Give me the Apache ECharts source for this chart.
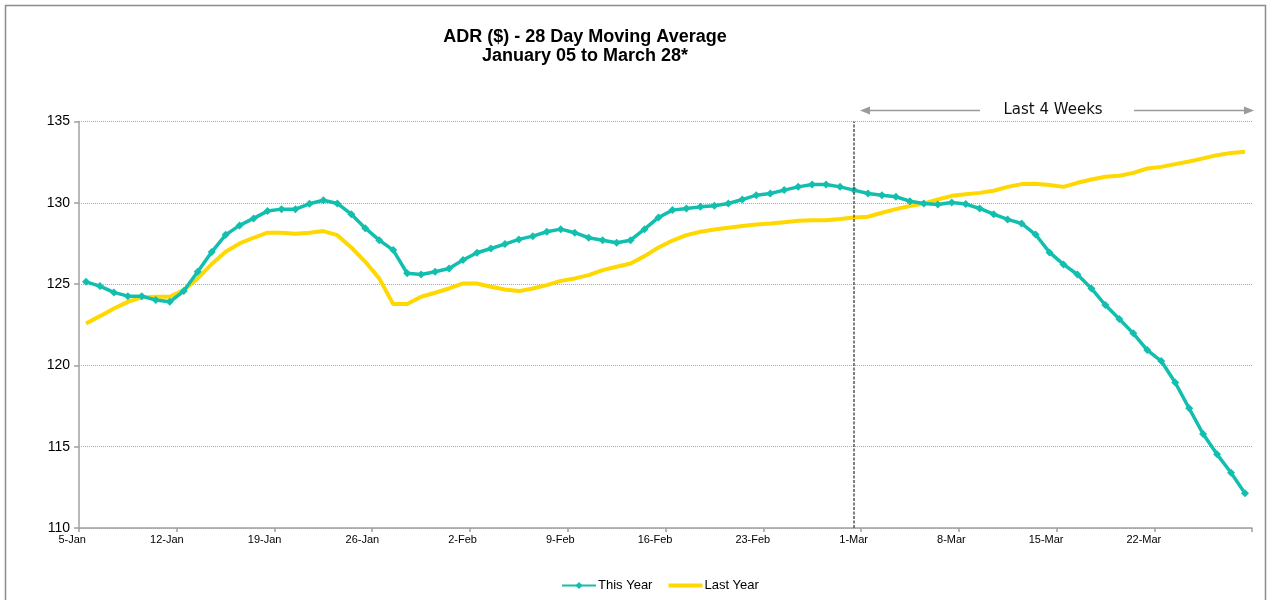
<!DOCTYPE html>
<html>
<head>
<meta charset="utf-8">
<script src="https://cdn.jsdelivr.net/npm/echarts@6/dist/echarts.min.js"></script>
<style>
  html, body { margin: 0; padding: 0; background: #fff; }
  #chart { width: 1276px; height: 600px; }
</style>
</head>
<body>
<div id="chart"></div>
<script>
const categories = [
  "5-Jan","6-Jan","7-Jan","8-Jan","9-Jan","10-Jan","11-Jan","12-Jan","13-Jan","14-Jan",
  "15-Jan","16-Jan","17-Jan","18-Jan","19-Jan","20-Jan","21-Jan","22-Jan","23-Jan","24-Jan",
  "25-Jan","26-Jan","27-Jan","28-Jan","29-Jan","30-Jan","31-Jan","1-Feb","2-Feb","3-Feb",
  "4-Feb","5-Feb","6-Feb","7-Feb","8-Feb","9-Feb","10-Feb","11-Feb","12-Feb","13-Feb",
  "14-Feb","15-Feb","16-Feb","17-Feb","18-Feb","19-Feb","20-Feb","21-Feb","22-Feb","23-Feb",
  "24-Feb","25-Feb","26-Feb","27-Feb","28-Feb","29-Feb","1-Mar","2-Mar","3-Mar","4-Mar",
  "5-Mar","6-Mar","7-Mar","8-Mar","9-Mar","10-Mar","11-Mar","12-Mar","13-Mar","14-Mar",
  "15-Mar","16-Mar","17-Mar","18-Mar","19-Mar","20-Mar","21-Mar","22-Mar","23-Mar","24-Mar",
  "25-Mar","26-Mar","27-Mar","28-Mar"
];

const thisYear = [
  125.14,124.88,124.49,124.26,124.26,124.02,123.91,124.57,125.76,126.97,
  128.03,128.61,129.04,129.49,129.61,129.61,129.94,130.16,129.96,129.30,
  128.44,127.70,127.09,125.66,125.59,125.76,125.96,126.48,126.93,127.19,
  127.46,127.75,127.95,128.22,128.38,128.16,127.85,127.70,127.54,127.70,
  128.38,129.10,129.55,129.65,129.75,129.82,129.96,130.20,130.47,130.57,
  130.78,130.98,131.13,131.13,130.98,130.78,130.57,130.47,130.37,130.10,
  129.96,129.90,130.02,129.92,129.65,129.30,128.98,128.73,128.05,126.95,
  126.21,125.59,124.73,123.71,122.85,121.97,120.94,120.27,118.95,117.36,
  115.78,114.53,113.40,112.13
];

const lastYear = [
  122.58,123.03,123.50,123.91,124.18,124.22,124.22,124.63,125.35,126.23,
  126.99,127.50,127.85,128.16,128.16,128.09,128.16,128.26,128.01,127.25,
  126.37,125.35,123.77,123.77,124.22,124.47,124.73,125.04,125.04,124.84,
  124.67,124.57,124.73,124.94,125.20,125.35,125.55,125.86,126.07,126.27,
  126.72,127.25,127.68,128.01,128.22,128.36,128.46,128.57,128.67,128.73,
  128.81,128.89,128.93,128.93,129.00,129.10,129.14,129.39,129.61,129.80,
  129.96,130.20,130.43,130.53,130.61,130.74,130.98,131.15,131.17,131.09,
  130.98,131.23,131.43,131.60,131.66,131.84,132.11,132.21,132.38,132.54,
  132.73,132.93,133.07,133.14
];

const seriesNames = ["This Year", "Last Year"];
const titleLines = ["ADR ($) - 28 Day Moving Average", "January 05 to March 28*"];
const markerDate = "29-Feb";
const annotationText = "Last 4 Weeks";

const FONT = "'Liberation Sans', Arial, sans-serif";
const TEAL = "#12BFAE";
const YELLOW = "#FFD800";
const LINE_ICON = "path://M0,0 M0,2.5 L34,2.5 L34,6.5 L0,6.5 Z M34,9";

const chart = echarts.init(document.getElementById("chart"), null, { renderer: "canvas" });

const option = {
  animation: false,
  backgroundColor: "#fff",
  textStyle: { fontFamily: FONT },
  title: {
    text: titleLines.join("\n"),
    left: 580,
    top: 23,
    textAlign: "center",
    textStyle: { fontFamily: FONT, fontSize: 18, fontWeight: "bold", color: "#000", lineHeight: 19 }
  },
  grid: { left: 79, right: 24, top: 121.5, bottom: 72, containLabel: false },
  legend: {
    data: [
      { name: seriesNames[0], icon: "inherit" },
      { name: seriesNames[1], icon: LINE_ICON }
    ],
    left: 556,
    top: 574,
    itemWidth: 34,
    itemHeight: 9,
    itemGap: 16,
    symbolKeepAspect: true,
    textStyle: { fontFamily: FONT, fontSize: 13, color: "#000", padding: [0, 0, 0, -3] }
  },
  xAxis: {
    type: "category",
    data: categories,
    boundaryGap: true,
    axisLine: { show: true, lineStyle: { color: "#a0a0a0", width: 1.5 } },
    axisTick: { show: true, interval: 6, length: 4, lineStyle: { color: "#a0a0a0", width: 1.5 } },
    axisLabel: {
      interval: 6,
      align: "right",
      margin: 6,
      fontFamily: FONT,
      fontSize: 11,
      color: "#000"
    },
    splitLine: { show: false }
  },
  yAxis: {
    type: "value",
    min: 110,
    max: 135,
    interval: 5,
    axisLine: { show: true, lineStyle: { color: "#a0a0a0", width: 1.5 } },
    axisTick: { show: true, length: 5, lineStyle: { color: "#a0a0a0", width: 1.5 } },
    axisLabel: { fontFamily: FONT, fontSize: 14, color: "#000", margin: 9 },
    splitLine: { show: true, lineStyle: { color: "#a8a8a8", type: "dotted", width: 1 } }
  },
  series: [
    {
      name: seriesNames[0],
      type: "line",
      data: thisYear,
      symbol: "diamond",
      symbolSize: 8,
      showSymbol: true,
      itemStyle: { color: TEAL },
      lineStyle: { color: TEAL, width: 3.5 },
      z: 3,
      markLine: {
        silent: true,
        symbol: ["none", "none"],
        label: { show: false },
        lineStyle: { color: "#555", type: [3, 1.5], width: 1.5 },
        data: [{ xAxis: markerDate }]
      }
    },
    {
      name: seriesNames[1],
      type: "line",
      data: lastYear,
      symbol: "none",
      showSymbol: false,
      itemStyle: { color: YELLOW },
      lineStyle: { color: YELLOW, width: 4 },
      z: 2
    }
  ]
};

chart.setOption(option);

// Annotation "Last 4 Weeks" (positioned from the axis scale)
const xLine = chart.convertToPixel({ xAxisIndex: 0 }, markerDate);
const xRight = 1276 - 24 + 2;
const yArr = 110.5;
const leftTip = xLine + 6;
const textCenter = (leftTip + xRight) / 2 - 4;
const GRAY = "#9a9a9a";

chart.setOption({
  graphic: [
    {
      type: "rect",
      silent: true,
      shape: { x: 5.5, y: 5.5, width: 1260, height: 640 },
      style: { fill: "none", stroke: "#8c8c8c", lineWidth: 1.5 },
      z: -10
    },
    {
      type: "line",
      silent: true,
      shape: { x1: leftTip + 8, y1: yArr, x2: textCenter - 73, y2: yArr },
      style: { stroke: GRAY, lineWidth: 1.5 }
    },
    {
      type: "polygon",
      silent: true,
      shape: { points: [[leftTip, yArr], [leftTip + 10, yArr - 4], [leftTip + 10, yArr + 4]] },
      style: { fill: GRAY }
    },
    {
      type: "text",
      silent: true,
      style: {
        text: annotationText,
        x: textCenter,
        y: yArr,
        align: "center",
        verticalAlign: "middle",
        font: "15px 'DejaVu Sans', sans-serif",
        fill: "#111"
      }
    },
    {
      type: "line",
      silent: true,
      shape: { x1: textCenter + 81, y1: yArr, x2: xRight - 8, y2: yArr },
      style: { stroke: GRAY, lineWidth: 1.5 }
    },
    {
      type: "polygon",
      silent: true,
      shape: { points: [[xRight, yArr], [xRight - 10, yArr - 4], [xRight - 10, yArr + 4]] },
      style: { fill: GRAY }
    }
  ]
});
</script>
</body>
</html>
